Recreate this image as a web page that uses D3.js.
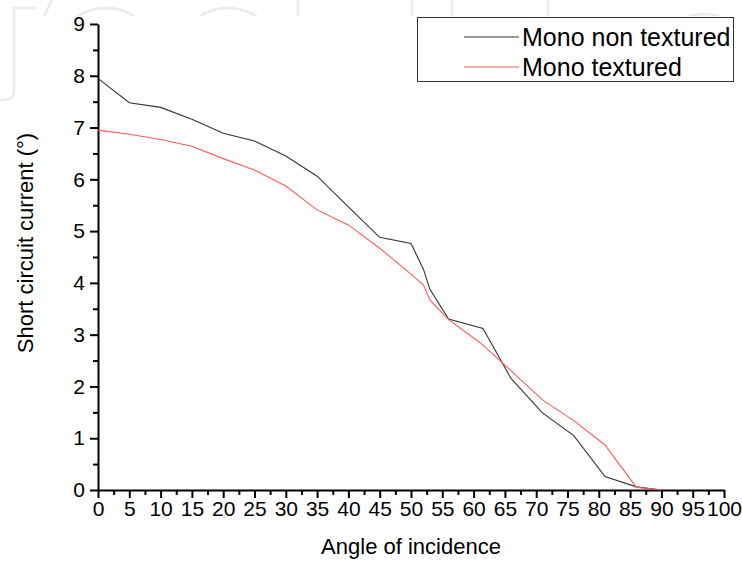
<!DOCTYPE html>
<html><head><meta charset="utf-8">
<script src="https://cdn.jsdelivr.net/npm/d3@7"></script>
<style>html,body{margin:0;padding:0;background:#fff;}svg{display:block;font-family:"Liberation Sans",Arial,sans-serif;}</style>
</head><body>
<script>
const xTicks = [0,5,10,15,20,25,30,35,40,45,50,55,60,65,70,75,80,85,90,95,100];
const yTicks = [0,1,2,3,4,5,6,7,8,9];
const seriesNames = ["Mono non textured","Mono textured"];
const seriesColors = ["#333333","#ff5a5a"];
const anglesNonTextured = [0,5,10,15,20,25,30,35,40,45,50,52,53,56,61.5,66,71,76,81,86,90];
const valuesNonTextured = [7.95,7.48,7.39,7.16,6.89,6.74,6.45,6.06,5.47,4.88,4.76,4.26,3.88,3.30,3.12,2.15,1.49,1.05,0.26,0.06,0];
const anglesTextured = [0,5,10,15,20,25,30,35,40,45,50,52,53,56,61,66,71,76,81,86,88,90];
const valuesTextured = [6.95,6.87,6.77,6.64,6.40,6.18,5.87,5.41,5.12,4.67,4.17,3.96,3.67,3.29,2.85,2.30,1.74,1.34,0.87,0.05,0.03,0];

const W=742,H=566;
const svg=d3.select("body").append("svg").attr("width",W).attr("height",H);

// faint watermark (decorative shapes)
const defs=svg.append("defs");
defs.append("clipPath").attr("id","wm").append("rect").attr("x",0).attr("y",0).attr("width",W).attr("height",16);
const wm=svg.append("g").attr("fill","none").attr("stroke","#ebebeb").attr("stroke-width",2.5);
const wmc=wm.append("g").attr("clip-path","url(#wm)");
[[106,52],[228,52],[362,40],[613,42],[705,46]].forEach(c=>wmc.append("circle").attr("cx",c[0]).attr("cy",60).attr("r",c[1]));
[298,412,452,548].forEach(v=>wmc.append("line").attr("x1",v).attr("x2",v).attr("y1",0).attr("y2",16));
wm.append("path").attr("d","M36,8 L14,8 L14,92 Q14,100 0,100");
wm.append("path").attr("d","M52,0 L44,16");

const x=d3.scaleLinear().domain([0,100]).range([98,724]);
const y=d3.scaleLinear().domain([0,9]).range([490,24]);

// minor ticks
const xMinor=d3.range(2.5,100,5);
const yMinor=d3.range(0.5,9,1);
svg.append("g").attr("transform","translate(0,490)")
  .call(d3.axisBottom(x).tickValues(xMinor).tickSize(5).tickFormat("").tickSizeOuter(0))
  .call(g=>{g.select(".domain").remove();g.selectAll("text").remove();g.selectAll("line").attr("stroke","#000").attr("stroke-width",2);});
svg.append("g").attr("transform","translate(98,0)")
  .call(d3.axisLeft(y).tickValues(yMinor).tickSize(5).tickFormat("").tickSizeOuter(0))
  .call(g=>{g.select(".domain").remove();g.selectAll("text").remove();g.selectAll("line").attr("stroke","#000").attr("stroke-width",2);});

// major axes
const gx=svg.append("g").attr("transform","translate(0,490)")
  .call(d3.axisBottom(x).tickValues(xTicks).tickSize(8).tickPadding(3).tickSizeOuter(0).tickFormat(d3.format("d")));
const gy=svg.append("g").attr("transform","translate(98,0)")
  .call(d3.axisLeft(y).tickValues(yTicks).tickSize(8).tickPadding(5).tickSizeOuter(0).tickFormat(d3.format("d")));
[gx,gy].forEach(g=>{
  g.select(".domain").attr("stroke","#000").attr("stroke-width",2);
  g.selectAll("line").attr("stroke","#000").attr("stroke-width",2);
  g.selectAll("text").attr("font-size",21).attr("fill","#000").attr("font-family","Liberation Sans, Arial, sans-serif");
});

// lines
const line=d3.line().x(d=>x(d[0])).y(d=>y(d[1]));
const data=[
  d3.zip(anglesNonTextured,valuesNonTextured),
  d3.zip(anglesTextured,valuesTextured)
];
svg.selectAll("path.series").data(data).enter().append("path").attr("class","series")
  .attr("d",line).attr("fill","none")
  .attr("stroke",(d,i)=>seriesColors[i]).attr("stroke-width",1.1);

// axis titles
svg.append("text").attr("x",411).attr("y",554).attr("text-anchor","middle")
  .attr("font-size",22).attr("fill","#000").text("Angle of incidence");
svg.append("text").attr("transform","translate(33,243) rotate(-90)").attr("text-anchor","middle")
  .attr("font-size",22).attr("fill","#000").text("Short circuit current (°)");

// legend
const lg=svg.append("g");
lg.append("rect").attr("x",417.5).attr("y",17.5).attr("width",316).attr("height",64)
  .attr("fill","#fff").attr("stroke","#333").attr("stroke-width",1);
seriesNames.forEach((n,i)=>{
  const yy=37+i*30;
  lg.append("line").attr("x1",464).attr("x2",519).attr("y1",yy).attr("y2",yy)
    .attr("stroke",seriesColors[i]).attr("stroke-width",1.1);
  lg.append("text").attr("x",522).attr("y",yy+9).attr("font-size",25).attr("fill","#000").text(n);
});
</script>
</body></html>
